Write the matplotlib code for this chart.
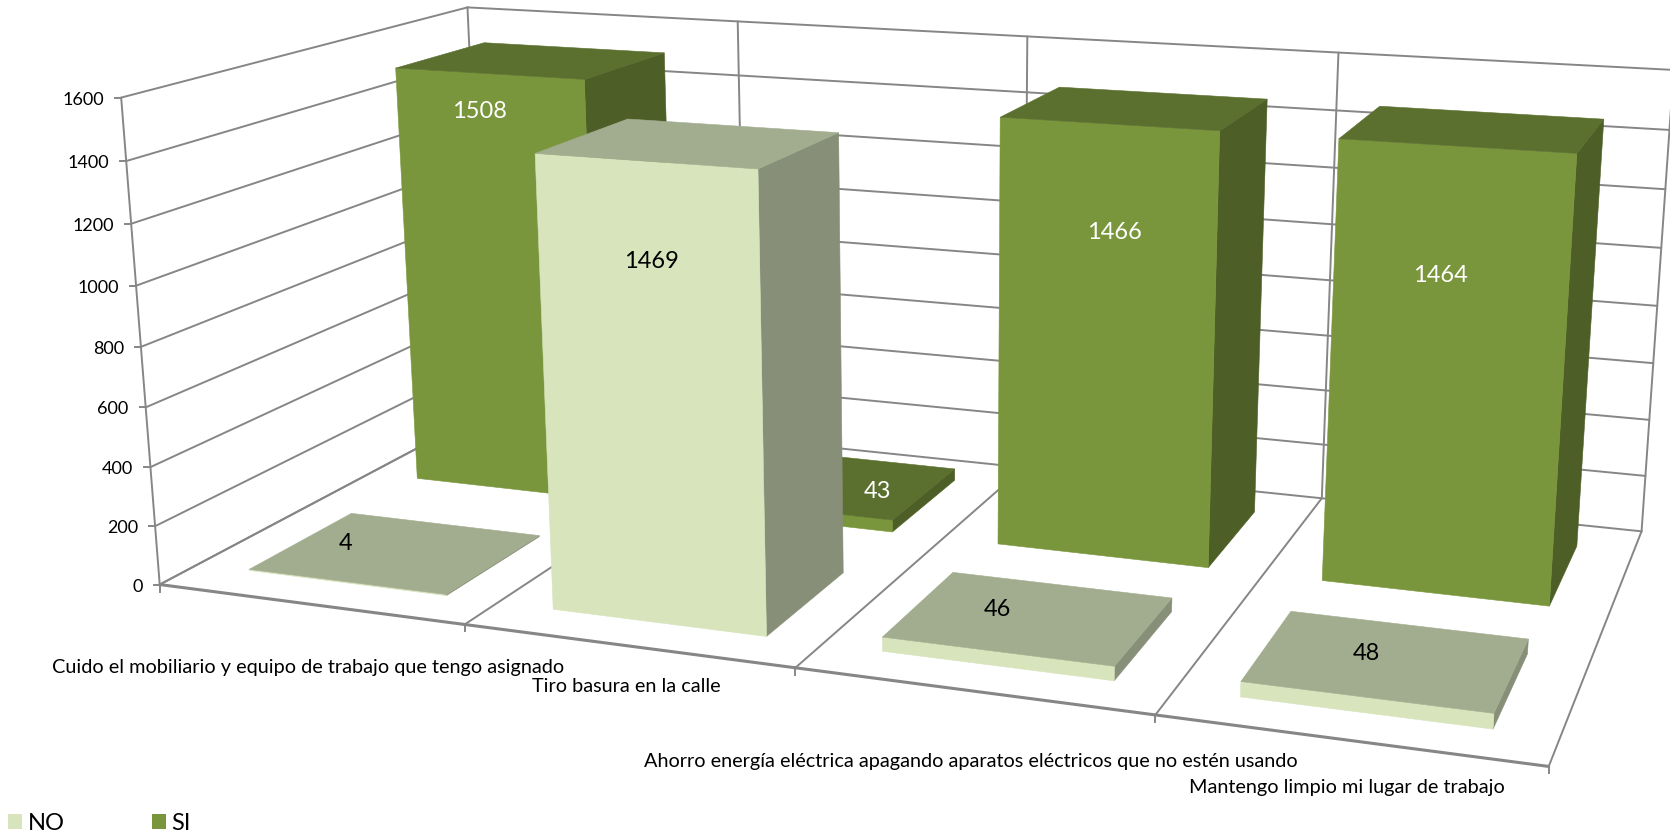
import numpy as np
import matplotlib
matplotlib.use("Agg")
import matplotlib.pyplot as plt
from matplotlib.patches import Polygon, Rectangle

plt.rcParams['font.family'] = ['Lato', 'DejaVu Sans']

categories = ["Cuido el mobiliario y equipo de trabajo que tengo asignado",
              "Tiro basura en la calle",
              "Ahorro energía eléctrica apagando aparatos eléctricos que no estén usando",
              "Mantengo limpio mi lugar de trabajo"]
no_values = [4, 1469, 46, 48]
si_values = [1508, 43, 1466, 1464]
z_ticks = [0, 200, 400, 600, 800, 1000, 1200, 1400, 1600]

# where the label text sits in the picture
no_label_pos = [(346, 543), (651, 261), (997, 610), (1366, 653)]
si_label_pos = [(479, 111), (877, 491), (1114, 232), (1440, 275)]
cat_label_pos = [(52, 667), (532, 686), (644, 761), (1189, 787)]

# bar footprint inside a category / depth unit
bar_x = (0.175, 0.832)
no_y = (0.10, 0.392)
si_y = (0.60, 0.892)

GRID = "#868686"
SI_COL = ("#7A963C", "#5B6F2E", "#4D5E26")  # front, top, side
NO_COL = ("#D7E4BC", "#A2AD8F", "#878F78")

# camera: axis frame corners and ticks (category, depth, value) -> pixel
calib = [((0, 0, 0), (158.7, 585)), ((0, 0, 1600), (124.6, 98)),
         ((0, 1, 1600), (465, 7.3)), ((0, 1, 0), (489, 411)),
         ((4, 0, 0), (1548.5, 764.7)), ((4, 1, 0), (1640.6, 532.3)),
         ((4, 1, 1600), (1675, 70)), ((1, 0, 0), (463.3, 625)),
         ((2, 0, 0), (796, 668.3)), ((3, 0, 0), (1156, 715)),
         ((1, 1, 1600), (737.5, 21.7)), ((2, 1, 1600), (1026.7, 36)),
         ((3, 1, 1600), (1338.2, 52.7)), ((0, 0, 800), (140, 346.7)),
         ((0, 0, 400), (149, 467.3)), ((0, 0, 1200), (131.5, 223.3))]


def fit_camera(pairs):
    A, b = [], []
    for (x, y, z), (u, v) in pairs:
        A.append([x, y, z, 1, 0, 0, 0, 0, -u * x, -u * y, -u * z])
        b.append(u)
        A.append([0, 0, 0, 0, x, y, z, 1, -v * x, -v * y, -v * z])
        b.append(v)
    p = np.linalg.lstsq(np.array(A, float), np.array(b, float), rcond=None)[0]
    return np.append(p, 1).reshape(3, 4)


P = fit_camera(calib)


def proj(x, y, z):
    u, v, w = P @ np.array([x, y, z, 1.0])
    return u / w, v / w


fig = plt.figure(figsize=(16.7, 8.33), dpi=100)
ax = fig.add_axes([0, 0, 1, 1])
ax.set_xlim(0, 1670)
ax.set_ylim(833, 0)
ax.axis("off")


def line(a, b, lw=1.4):
    pa, pb = proj(*a), proj(*b)
    ax.plot([pa[0], pb[0]], [pa[1], pb[1]], color=GRID, lw=lw, zorder=1,
            solid_capstyle="round")


top = z_ticks[-1]
for z in z_ticks:
    line((0, 0, z), (0, 1, z))
    line((0, 1, z), (4, 1, z))
    p = proj(0, 0, z)
    ax.plot([p[0] - 6, p[0]], [p[1], p[1]], color=GRID, lw=1.4, zorder=1)
    ax.text(p[0] - 17, p[1] + 2, str(z), ha="right", va="center", fontsize=13, color="black")
for i in range(5):
    line((i, 1, 0), (i, 1, top))
    line((i, 0, 0), (i, 1, 0))
    if i < 4:
        line((i, 0, 0), (i + 1, 0, 0), lw=2.2)
    p = proj(i, 0, 0)
    ax.plot([p[0], p[0]], [p[1], p[1] + 7], color=GRID, lw=1.4, zorder=1)
line((0, 0, 0), (0, 0, top))


def bar(i, ys, value, cols):
    x0, x1 = i + bar_x[0], i + bar_x[1]
    y0, y1 = ys
    faces = [(cols[2], [(x1, y0, 0), (x1, y1, 0), (x1, y1, value), (x1, y0, value)]),
             (cols[0], [(x0, y0, 0), (x1, y0, 0), (x1, y0, value), (x0, y0, value)]),
             (cols[1], [(x0, y0, value), (x1, y0, value), (x1, y1, value), (x0, y1, value)])]
    for col, pts in faces:
        ax.add_patch(Polygon([proj(*q) for q in pts], closed=True, fc=col, ec=col, lw=0.4, zorder=2))


for i, v in enumerate(si_values):
    bar(i, si_y, v, SI_COL)
for i, v in enumerate(no_values):
    bar(i, no_y, v, NO_COL)

for v, pos in zip(si_values, si_label_pos):
    ax.text(pos[0], pos[1], str(v), ha="center", va="center", fontsize=17, color="white", zorder=3)
for v, pos in zip(no_values, no_label_pos):
    ax.text(pos[0], pos[1], str(v), ha="center", va="center", fontsize=17, color="black", zorder=3)
for name, pos in zip(categories, cat_label_pos):
    ax.text(pos[0], pos[1], name, ha="left", va="center", fontsize=14.3, color="black", zorder=3)

ax.add_patch(Rectangle((7.5, 814), 14.3, 15, fc=NO_COL[0], ec="none"))
ax.add_patch(Rectangle((151.8, 814), 14.3, 15, fc=SI_COL[0], ec="none"))
ax.text(28, 823, "NO", ha="left", va="center", fontsize=17)
ax.text(171, 823, "SI", ha="left", va="center", fontsize=17)

fig.savefig("out.png", dpi=100)
